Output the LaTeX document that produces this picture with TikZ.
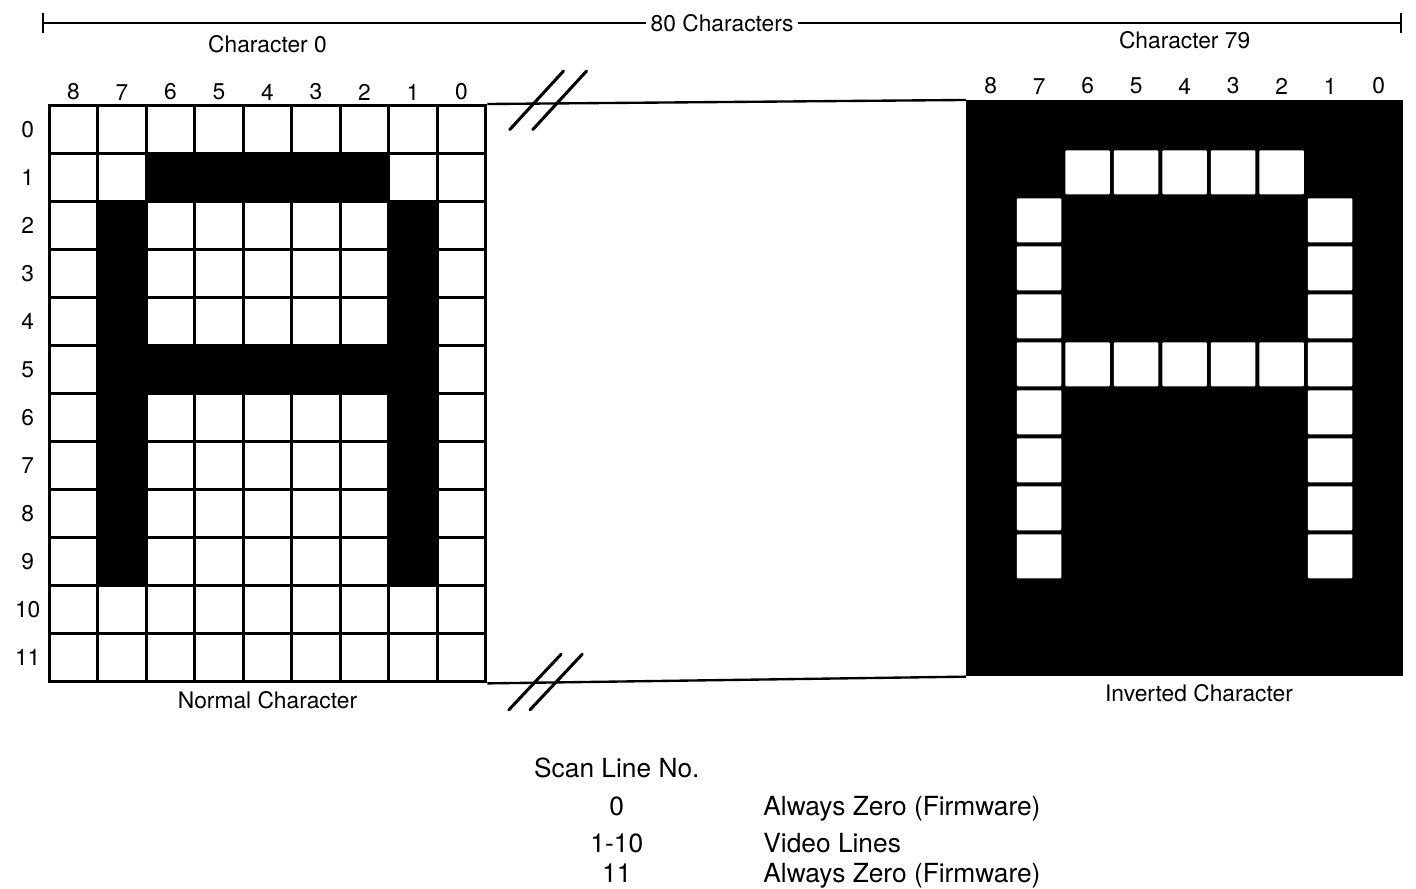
\documentclass[tikz,border=0pt]{standalone}
\usepackage{fontspec}
\setmainfont{TeX Gyre Heros}
\usetikzlibrary{matrix,positioning,arrows.meta}
\tikzset{
pixmat/.style={
  matrix of nodes,
  nodes in empty cells,
  anchor=north west,
  inner sep=0pt,
  nodes={anchor=center,inner sep=0pt,minimum width=1.0104cm,minimum height=1cm}
  },
normmat/.style={
  pixmat,
  column sep=-1.6pt,
  row sep=-1.6pt,
  nodes={draw,line width=1.6pt,fill=white},
  pixon/.style={fill=black}
  },
invmat/.style={
  pixmat,
  fill=black,
  pixon/.style={fill=white,rounded corners=0.6pt,minimum width=0.927cm,minimum height=0.917cm}
  },
lbl/.style={font=\fontsize{13.5pt}{16pt}\selectfont},
leg/.style={font=\fontsize{15.6pt}{18pt}\selectfont,anchor=base},
boxline/.style={line width=1.4pt},
slash/.style={line width=1.8pt,line cap=round}
}

\begin{document}
\begin{tikzpicture}
\useasboundingbox (0,0) rectangle (29.5,18.5);

\matrix[normmat] at (0.99,16.333) (norm)
{
 & & & & & & & & \\
 & & |[pixon]| & |[pixon]| & |[pixon]| & |[pixon]| & |[pixon]| & & \\
 & |[pixon]| & & & & & & |[pixon]| & \\
 & |[pixon]| & & & & & & |[pixon]| & \\
 & |[pixon]| & & & & & & |[pixon]| & \\
 & |[pixon]| & |[pixon]| & |[pixon]| & |[pixon]| & |[pixon]| & |[pixon]| & |[pixon]| & \\
 & |[pixon]| & & & & & & |[pixon]| & \\
 & |[pixon]| & & & & & & |[pixon]| & \\
 & |[pixon]| & & & & & & |[pixon]| & \\
 & |[pixon]| & & & & & & |[pixon]| & \\
 & & & & & & & & \\
 & & & & & & & & \\
};

\matrix[invmat] at (20.125,16.417) (inv)
{
 & & & & & & & & \\
 & & |[pixon]| & |[pixon]| & |[pixon]| & |[pixon]| & |[pixon]| & & \\
 & |[pixon]| & & & & & & |[pixon]| & \\
 & |[pixon]| & & & & & & |[pixon]| & \\
 & |[pixon]| & & & & & & |[pixon]| & \\
 & |[pixon]| & |[pixon]| & |[pixon]| & |[pixon]| & |[pixon]| & |[pixon]| & |[pixon]| & \\
 & |[pixon]| & & & & & & |[pixon]| & \\
 & |[pixon]| & & & & & & |[pixon]| & \\
 & |[pixon]| & & & & & & |[pixon]| & \\
 & |[pixon]| & & & & & & |[pixon]| & \\
 & & & & & & & & \\
 & & & & & & & & \\
};

\foreach \b [count=\c] in {8,7,...,0} {
  \node[lbl,above=-1pt of norm-1-\c] (normbit\b) {\b};
  \node[lbl,above=0pt of inv-1-\c] (invbit\b) {\b};
}
\foreach \r [count=\m] in {0,...,11}
  \node[lbl] (rowlbl\r) at ([xshift=-0.42cm]norm-\m-1.west) {\r};

\node[lbl,above=0.94cm of norm] (normtitle) {Character 0};
\node[lbl,above=0.94cm of inv] (invtitle) {Character 79};
\node[lbl,below=1pt of norm] (normcap) {Normal Character};
\node[lbl,below=1pt of inv,xshift=0.3cm] (invcap) {Inverted Character};

\coordinate (barl) at (0.875,18.02);
\coordinate (barr) at (29.21,18.02);
\draw[line width=1.4pt,{Bar[width=0.42cm]}-{Bar[width=0.42cm]}] (barl) -- node[lbl,fill=white,inner sep=3pt] (total) {80 Characters} (barr);

\draw[boxline] (norm.north east) -- (inv.north west);
\draw[boxline] (norm.south east) -- (inv.south west);

\foreach \s in {0,0.48}
  \draw[slash] (10.62+\s,15.80) -- ++(1.12,1.22);
\foreach \s in {0,0.44}
  \draw[slash] (10.60+\s,3.71) -- ++(1.09,1.16);

\node[leg] (scanhead) at (12.85,2.31) {Scan Line No.};
\foreach \y/\n/\d [count=\i] in {1.52/0/{Always Zero (Firmware)},0.75/1-10/{Video Lines},0.125/11/{Always Zero (Firmware)}} {
  \node[leg] (scannum\i) at (12.85,\y) {\n};
  \node[leg,anchor=base west] (scandesc\i) at (15.78,\y) {\d};
}
\end{tikzpicture}
\end{document}
